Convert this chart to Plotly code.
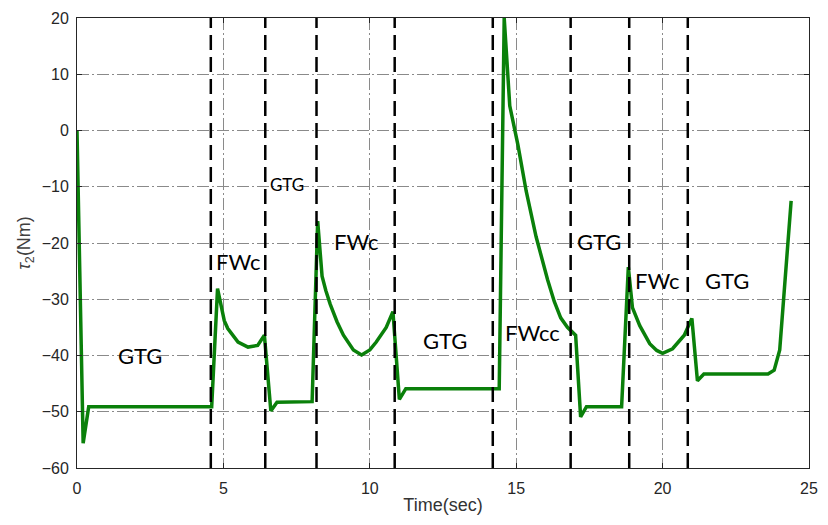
import plotly.graph_objects as go

# Data
time_s = [0.0, 0.21, 0.40, 4.60, 4.80, 5.03, 5.15, 5.27, 5.50, 5.84, 6.17, 6.40,
          6.62, 6.83, 8.03, 8.22, 8.37, 8.50, 8.65, 8.88, 9.10, 9.44, 9.72, 10.00, 10.22, 10.56, 10.79,
          11.01, 11.23, 14.42, 14.59, 14.78, 15.06, 15.34, 15.68, 16.07, 16.30, 16.52, 16.75, 16.91, 17.03,
          17.20, 17.40, 18.60, 18.83, 18.97, 19.10, 19.22, 19.56, 19.80, 20.00, 20.34, 20.74, 21.00,
          21.19, 21.41, 23.60, 23.81, 24.00, 24.39]
torque = [0.0, -55.6, -49.1, -49.1, -28.1, -33.8, -35.2, -36.1, -37.6, -38.5, -38.2, -36.4,
          -49.85, -48.3, -48.2, -16.1, -25.9, -28.5, -30.9, -34.0, -36.4, -39.0, -39.9, -39.0, -37.6, -35.0, -32.2,
          -47.8, -45.9, -45.9, 20.0, 4.4, -2.6, -10.75, -18.9, -26.5, -30.4, -33.3, -35.0, -35.8, -36.4,
          -50.9, -49.1, -49.1, -24.3, -31.5, -33.3, -34.7, -37.9, -39.1, -39.6, -38.8, -36.4, -33.4,
          -44.5, -43.3, -43.3, -42.6, -39.0, -12.5]

switch_times = [4.57, 6.43, 8.18, 10.85, 14.20, 16.86, 18.86, 20.86]

label_text = ["GTG", "FWc", "GTG", "FWc", "GTG", "FWcc", "GTG", "FWc", "GTG"]
label_x = [2.16, 5.50, 7.18, 9.52, 12.58, 15.55, 17.82, 19.80, 22.20]
label_y = [-40.0, -23.2, -9.6, -19.8, -37.4, -35.9, -19.8, -26.7, -26.7]
label_size = [22, 22, 17, 22, 22, 22, 22, 22, 22]

x_ticks = [0, 5, 10, 15, 20, 25]
y_ticks = [20, 10, 0, -10, -20, -30, -40, -50, -60]

fig = go.Figure()
fig.add_trace(go.Scatter(x=time_s, y=torque, mode="lines",
                         line=dict(color="#0a800a", width=3.5), showlegend=False))

for t in switch_times:
    fig.add_shape(type="line", xref="x", yref="paper", x0=t, x1=t, y0=0, y1=1,
                  line=dict(color="black", width=2.5, dash="15px,7px"), layer="above")

for txt, lx, ly, sz in zip(label_text, label_x, label_y, label_size):
    fig.add_annotation(x=lx, y=ly, text=txt, showarrow=False, xanchor="center", yanchor="middle",
                       font=dict(family="Lato, Open Sans, sans-serif", size=sz, color="black"))

grid_dash = "12px,3px,2px,3px"
fig.update_layout(
    width=828, height=525,
    margin=dict(l=77, r=10, t=11, b=57),
    plot_bgcolor="white", paper_bgcolor="white",
    font=dict(family="Liberation Sans, Arial, sans-serif", size=16, color="#262626"),
    xaxis=dict(range=[0, 25], tickvals=x_ticks, showgrid=True, gridcolor="#8a8a8a", gridwidth=1,
               griddash=grid_dash, zeroline=False, showline=True, linecolor="#262626", linewidth=1,
               mirror="ticks", ticks="inside", ticklen=5, tickcolor="#262626", ticklabelstandoff=6,
               title=dict(text="Time(sec)", font=dict(size=18, color="#333333"), standoff=2)),
    yaxis=dict(range=[-60, 20], tickvals=y_ticks, showgrid=True, gridcolor="#8a8a8a", gridwidth=1,
               griddash=grid_dash, zeroline=False, showline=True, linecolor="#262626", linewidth=1,
               mirror="ticks", ticks="inside", ticklen=5, tickcolor="#262626", ticklabelstandoff=4,
               title=dict(text="<i>τ</i><sub>2</sub>(Nm)", font=dict(size=18, color="#404040"), standoff=6)),
)

fig.write_html("out.html")
